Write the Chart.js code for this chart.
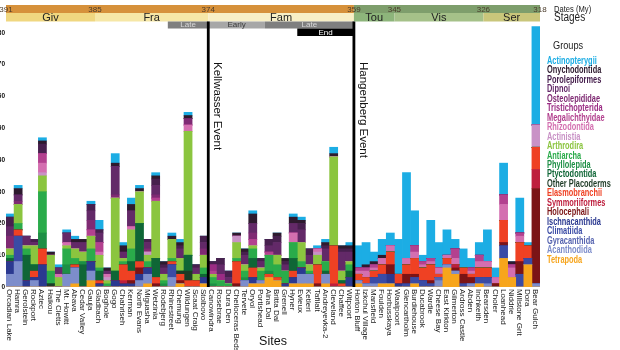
<!DOCTYPE html>
<html>
<head>
<meta charset="utf-8">
<script src="https://cdn.jsdelivr.net/npm/chart.js@4.4.0/dist/chart.umd.min.js"></script>
<style>
  body { margin: 0; background: #fff; }
  #wrap { position: relative; width: 620px; height: 350px; overflow: hidden; font-family: 'Liberation Sans', Arial, sans-serif; }
  #chart { position: absolute; left: 0; top: 0; }
  .side { position: absolute; white-space: nowrap; transform: scaleX(0.8); transform-origin: 0 0; color: #222; }
  #legend { position: absolute; left: 547px; top: 56px; white-space: nowrap; }
  #legend div { font-weight: bold; font-size: 10px; line-height: 9.46px; height: 9.46px; transform: scaleX(0.74); transform-origin: 0 0; }
</style>
</head>
<body>
<div id="wrap">
  <canvas id="chart" width="620" height="350"></canvas>
  <div class="side" style="left:554px;top:3px;font-size:9.5px;">Dates (My)</div>
  <div class="side" style="left:554px;top:10px;font-size:12.5px;">Stages</div>
  <div class="side" style="left:553px;top:39px;font-size:11.5px;">Groups</div>
  <div id="legend"></div>
</div>
<script>
// sites, left to right
var sites = ['Orcadian Lake', 'Hamra', 'Gerolstein', 'Rockport', 'Aztec', 'Haikou', 'The Cletts', 'Mt. Howitt', 'Abava', 'Cedar Valley', 'Gauja',
  'Gladbach', 'Boghole', 'Gogo', 'Chahriseh', 'Kerman', 'North Evans', 'Miguasha', 'Wetzinia', 'Rodebjerg', 'Rhinestreet', 'Chemung',
  'Wildungen', 'Scaat Craig', 'Stolbovo', 'Canowindra', 'Rosebrae', 'Dura Den', 'Cheiloceras Beds', 'Tervete', 'Oryol', 'Portishead', 'Aina Dal',
  'Britta Dal', 'Grenell', 'Hyner', 'Evieux', 'Ketleri', 'Tafilalt', 'Andreyevka-2', 'Cleveland', 'Chaffee', 'Witpoort', 'Horton Bluff',
  'Izkchul Village', 'Mansfield', 'Foulden', 'Horbusskaya', 'Waaipoort', 'Glencartholm', 'Burdiehouse', 'Ducabrook', 'Wardie', 'Cheese Bay', 'East Kirkton',
  'Gilmerton', 'Ardross Castle', 'Abden', 'Inchkeith', 'Bearsden', 'Choler', 'Loanhead', 'Niddrie', 'Millstone Grit', 'Dora', 'Bear Gulch'];

// counts per group (stacked bottom to top)
var tetrapoda = [0,0,0,0,0,0,0,0,1,0,2, 0,0,0,0,0,0,1,0,0,0,1, 0,0,1,0,0,0,0,0,1,1,3, 2,0,1,1,1,0,1,0,0,0,1, 0,0,1,1,0,0,1,0,0,0,6, 4,0,0,1,0,0,9,3,0,7,0];
var acanthodida = [4,8,0,2,0,0,0,4,5,0,3, 0,0,0,0,0,2,3,0,0,3,0, 0,0,0,0,0,0,0,2,0,1,0, 0,0,0,3,3,0,3,0,0,0,1, 1,1,0,0,0,0,0,0,0,2,1, 1,0,1,0,1,0,0,0,0,0,1];
var gyracanthida = [0,0,0,0,0,0,0,0,0,0,0, 0,0,0,0,0,0,0,0,0,0,0, 0,0,0,0,0,0,0,0,0,0,0, 0,0,0,0,0,0,0,0,0,0,0, 0,0,0,0,0,0,0,0,0,1,0, 0,0,0,0,0,0,0,0,0,0,0];
var climatiida = [0,8,0,0,0,0,0,0,0,0,0, 0,0,0,0,0,0,0,0,0,4,0, 0,0,0,0,0,0,0,0,0,0,0, 0,0,0,0,0,0,0,0,0,0,0, 0,2,3,0,0,1,2,2,1,0,0, 0,1,0,2,2,0,4,0,4,2,0];
var ischnacanthida = [4,0,2,1,7,0,0,0,0,0,3, 1,0,2,1,1,2,2,0,0,0,0, 0,0,2,0,0,0,0,0,2,0,0, 0,1,2,2,0,0,0,0,0,3,0, 0,0,0,3,1,0,0,0,0,0,0, 0,0,0,0,0,0,0,0,0,0,0];
var holocephali = [0,0,0,0,0,0,0,0,0,0,0, 0,0,0,0,1,2,0,1,0,0,1, 0,0,0,0,0,0,1,0,0,0,0, 0,0,0,0,0,1,0,0,0,0,0, 0,0,0,3,0,3,1,0,1,0,0, 1,3,2,0,0,1,1,0,4,0,30];
var symmoriiformes = [0,0,0,0,0,0,0,0,0,0,0, 0,0,0,1,0,0,0,0,0,0,0, 0,0,0,0,0,0,0,0,0,0,0, 0,0,0,0,0,0,0,1,0,0,0, 0,0,0,0,0,0,0,0,0,0,0, 1,0,0,0,0,0,0,0,0,0,6];
var elasmobranchii = [0,2,0,2,5,0,0,0,1,0,0, 1,0,0,5,3,2,0,2,0,1,2, 2,2,0,0,0,0,7,0,3,0,1, 1,0,2,0,0,6,0,12,1,0,2, 2,2,3,4,3,3,5,4,5,1,2, 0,2,1,3,3,0,7,0,6,4,7];
var otherPlacoderms = [0,0,0,0,0,1,0,0,0,0,0, 0,0,0,0,0,0,0,0,0,0,1, 3,0,0,0,0,0,0,0,0,0,0, 0,0,0,0,0,0,0,0,0,0,0, 0,0,0,0,0,0,0,0,0,0,0, 0,0,0,0,0,0,0,0,0,0,0];
var ptyctodontida = [1,0,8,2,0,0,0,0,0,7,0, 3,0,3,0,3,12,0,6,0,0,0, 5,0,1,0,0,0,0,0,3,0,0, 0,0,4,0,0,0,1,0,1,2,0, 0,0,0,0,0,0,0,0,0,0,0, 0,0,0,0,0,0,0,0,0,0,0];
var phyllolepida = [0,0,0,0,5,0,0,3,0,1,0, 0,0,0,0,0,0,0,0,1,0,0, 0,0,0,1,0,0,0,1,0,0,1, 0,0,0,0,0,0,0,0,0,0,0, 0,0,0,0,0,0,0,0,0,0,0, 0,0,0,0,0,0,0,0,0,0,0];
var antiarcha = [1,2,2,0,13,4,0,5,2,0,4, 1,1,0,1,4,0,2,0,1,1,0, 0,0,2,2,2,1,1,2,3,3,5, 4,4,5,2,1,0,3,0,0,2,0, 0,0,0,0,0,0,0,0,0,0,0, 0,0,0,0,0,0,0,0,0,0,0];
var arthrodira = [2,6,1,6,5,5,3,1,3,3,4, 4,1,23,1,6,10,2,18,2,6,4, 39,2,4,1,0,0,5,2,1,1,0, 3,0,0,6,2,3,0,28,3,1,0, 0,0,0,0,0,0,0,0,0,0,0, 0,0,0,0,0,0,0,0,0,0,0];
var actinistia = [0,0,0,0,1,0,0,0,0,0,0, 0,1,0,0,0,0,1,0,0,0,0, 0,0,0,0,0,0,2,0,0,0,0, 0,0,0,0,0,1,0,0,0,0,0, 0,0,0,0,0,0,0,0,0,0,0, 0,0,0,0,0,0,0,0,0,0,7];
var rhizodontida = [0,0,0,0,3,0,1,1,0,0,0, 1,1,0,0,1,0,0,0,0,0,0, 2,0,0,0,0,0,0,0,0,0,0, 0,0,3,0,0,1,0,0,0,0,1, 2,1,2,2,0,2,2,1,1,2,1, 2,0,1,2,2,2,5,3,2,0,0];
var megalichthyidae = [0,0,0,0,3,0,0,0,0,0,2, 3,0,0,0,0,0,0,1,0,0,0, 0,0,0,1,0,0,0,0,2,0,1, 0,0,0,0,0,0,0,0,0,0,1, 1,1,0,0,0,0,2,1,1,0,0, 3,0,1,2,0,0,3,1,1,0,0];
var tristichopterida = [0,0,0,0,0,0,0,0,0,0,0, 0,0,0,0,0,0,0,0,0,0,0, 0,0,0,2,2,0,0,0,0,0,0, 0,0,0,0,0,0,0,0,0,0,0, 0,0,0,0,0,0,0,0,0,0,0, 0,0,0,0,0,0,0,0,0,0,0];
var osteolepididae = [4,1,0,0,0,0,0,0,0,0,3, 0,0,1,0,0,0,1,1,0,0,0, 2,0,2,0,0,0,0,0,2,0,0, 0,0,0,0,0,0,0,0,0,0,0, 0,0,0,0,0,0,0,0,0,0,0, 0,0,0,0,0,0,0,0,0,0,0];
var dipnoi = [3,2,3,1,0,0,2,3,2,3,3, 3,1,9,2,5,0,2,3,2,0,3, 0,2,2,0,3,2,0,3,3,2,2, 4,2,3,4,3,0,4,0,6,3,0, 0,0,0,0,0,0,0,0,0,0,0, 0,0,0,0,0,0,0,0,0,0,0];
var porolepiformes = [3,0,0,1,3,0,0,0,0,0,2, 1,0,0,0,0,0,1,2,1,0,1, 0,1,2,1,2,2,0,1,0,1,2, 2,1,0,2,2,0,1,0,1,1,0, 0,0,0,0,0,0,0,0,0,0,0, 0,0,0,0,0,0,0,0,0,0,0];
var onychodontida = [0,2,0,0,1,1,0,0,1,1,0, 0,1,1,2,2,1,0,1,1,1,1, 1,0,0,0,0,0,1,1,3,0,0, 1,1,2,1,0,0,1,1,1,1,0, 1,1,1,0,0,0,0,0,0,0,0, 0,0,0,0,0,0,0,1,0,0,0];
var actinopterygii = [1,1,0,0,1,0,1,1,1,0,1, 3,0,3,1,2,1,0,1,0,1,1, 1,0,0,0,0,0,0,0,1,0,0, 0,0,1,1,0,1,1,2,0,1,7, 7,3,5,4,11,27,11,2,12,8,8, 3,6,3,4,10,3,10,0,11,1,31];

var groups = ['Tetrapoda', 'Acanthodida', 'Gyracanthida', 'Climatiida', 'Ischnacanthida', 'Holocephali', 'Symmoriiformes', 'Elasmobranchii',
  'Other Placoderms', 'Ptyctodontida', 'Phyllolepida', 'Antiarcha', 'Arthrodira', 'Actinistia', 'Rhizodontida', 'Megalichthyidae',
  'Tristichopterida', 'Osteolepididae', 'Dipnoi', 'Porolepiformes', 'Onychodontida', 'Actinopterygii'];
var counts = [tetrapoda, acanthodida, gyracanthida, climatiida, ischnacanthida, holocephali, symmoriiformes, elasmobranchii,
  otherPlacoderms, ptyctodontida, phyllolepida, antiarcha, arthrodira, actinistia, rhizodontida, megalichthyidae,
  tristichopterida, osteolepididae, dipnoi, porolepiformes, onychodontida, actinopterygii];
var colours = ['#f7a51c', '#7d8dcb', '#5664b0', '#3a4ba5', '#2b3990', '#7b1416', '#be1e3d', '#ef4123',
  '#1e3b26', '#0f6636', '#1d8f45', '#2aab4a', '#8bc53f', '#c992c6', '#d46fb0', '#b3418f',
  '#9b2c84', '#7f2a73', '#632968', '#47204e', '#2d1a2e', '#1cade4'];

// time scale on top, given as site index where each starts
var dates = [391, 385, 374, 359, 345, 326, 318];
var dateAt = [0, 11, 25, 43, 48, 59, 66];
var stages = ['Giv', 'Fra', 'Fam', 'Tou', 'Vis', 'Ser'];
var stageAt = [0, 11, 25, 43, 48, 59, 66];
var subStages = ['Late', 'Early', 'Late'];
var subStageAt = [[20, 25], [25, 32], [32, 43]];
var endStage = ['End', 36, 43];
var events = ['Kellwasser Event', 'Hangenberg Event'];
var eventAt = [25, 43];

var stageColours = ['#f0d780', '#f6e7a6', '#f8efc6', '#8db57b', '#a5c189', '#c9c67b'];

// legend, top of stack first
var legend = document.getElementById('legend');
for (var g = groups.length - 1; g >= 0; g--) {
  var d = document.createElement('div');
  d.textContent = groups[g];
  d.style.color = colours[g];
  legend.appendChild(d);
}

var timePlugin = {
  id: 'timeline',
  afterDatasetsDraw: function(chart) {
    var ctx = chart.ctx;
    var x = chart.scales.x;
    var area = chart.chartArea;
    var w = x.getPixelForValue(1) - x.getPixelForValue(0);
    function edge(i) { return x.getPixelForValue(0) - w / 2 + i * w; }
    ctx.save();

    // dates band
    ctx.fillStyle = '#d6913b';
    ctx.fillRect(edge(0), 5, edge(43) - edge(0), 8);
    ctx.fillStyle = '#7e9e6c';
    ctx.fillRect(edge(43), 5, edge(66) - edge(43), 8);
    ctx.font = '8px "Liberation Sans", Arial';
    ctx.fillStyle = '#4a3b2a';
    ctx.textAlign = 'center';
    ctx.textBaseline = 'middle';
    for (var i = 0; i < dates.length; i++) {
      ctx.fillText(String(dates[i]), edge(dateAt[i]), 9.5);
    }

    // stages band
    ctx.font = '11px "Liberation Sans", Arial';
    for (var s = 0; s < stages.length; s++) {
      var a = edge(stageAt[s]), b = edge(stageAt[s + 1]);
      ctx.fillStyle = stageColours[s];
      ctx.fillRect(a, 13, b - a, 8.5);
      ctx.fillStyle = '#222';
      ctx.fillText(stages[s], (a + b) / 2, 17.5);
    }

    // sub stages
    ctx.font = '8px "Liberation Sans", Arial';
    for (var k = 0; k < subStages.length; k++) {
      var a2 = edge(subStageAt[k][0]), b2 = edge(subStageAt[k][1]);
      var early = subStages[k] === 'Early';
      ctx.fillStyle = early ? '#a7a7a7' : '#7f7f7f';
      ctx.fillRect(a2, 21.5, b2 - a2, 7);
      ctx.fillStyle = early ? '#3c3c3c' : '#d9d9d9';
      ctx.fillText(subStages[k], (a2 + b2) / 2, 25);
    }
    var ea = edge(endStage[1]), eb = edge(endStage[2]);
    ctx.fillStyle = '#000';
    ctx.fillRect(ea, 28.5, eb - ea, 7.5);
    ctx.fillStyle = '#fff';
    ctx.fillText(endStage[0], (ea + eb) / 2, 32.3);

    // event lines and labels
    ctx.strokeStyle = '#000';
    ctx.lineWidth = 2.8;
    ctx.font = '11.5px "Liberation Sans", Arial';
    ctx.textAlign = 'left';
    ctx.textBaseline = 'alphabetic';
    for (var e = 0; e < events.length; e++) {
      var ex = edge(eventAt[e]);
      ctx.beginPath();
      ctx.moveTo(ex, 21.5);
      ctx.lineTo(ex, area.bottom);
      ctx.stroke();
      ctx.save();
      ctx.translate(ex + 6, 62);
      ctx.rotate(Math.PI / 2);
      ctx.fillStyle = '#111';
      ctx.fillText(events[e], 0, 0);
      ctx.restore();
    }

    // site labels, reading downwards
    ctx.font = '8px "Liberation Sans", Arial';
    ctx.fillStyle = '#1a1a1a';
    for (var n = 0; n < sites.length; n++) {
      ctx.save();
      ctx.translate(x.getPixelForValue(n) - 3, area.bottom + 2);
      ctx.rotate(Math.PI / 2);
      ctx.fillText(sites[n], 0, 0);
      ctx.restore();
    }
    ctx.restore();
  }
};

var datasets = [];
for (var j = 0; j < groups.length; j++) {
  datasets.push({
    label: groups[j],
    data: counts[j],
    backgroundColor: colours[j],
    borderWidth: 0,
    barPercentage: 1,
    categoryPercentage: 1
  });
}

var chart = new Chart(document.getElementById('chart'), {
  type: 'bar',
  data: { labels: sites, datasets: datasets },
  plugins: [timePlugin],
  options: {
    responsive: false,
    animation: false,
    layout: { padding: { top: 25, right: 80, left: 0, bottom: 0 } },
    plugins: { legend: { display: false }, tooltip: { enabled: false } },
    scales: {
      x: {
        stacked: true,
        grid: { display: false, drawTicks: false },
        border: { display: false },
        ticks: { display: false },
        title: { display: true, text: 'Sites', font: { size: 12.5, family: '"Liberation Sans", Arial' }, color: '#111', padding: { top: 0, bottom: 1 } },
        afterFit: function(scale) { scale.height = 63; }
      },
      y: {
        stacked: true,
        min: 0,
        max: 82.5,
        grid: { display: false, drawTicks: false },
        border: { display: false },
        ticks: { stepSize: 10, includeBounds: false, padding: 1, color: '#111', font: { size: 6.5, weight: 'bold', family: '"Liberation Sans", Arial' } },
        afterFit: function(scale) { scale.width = 6; }
      }
    }
  }
});
</script>
</body>
</html>
